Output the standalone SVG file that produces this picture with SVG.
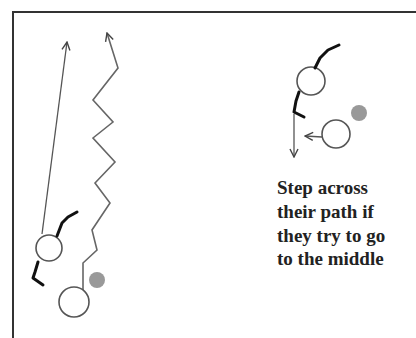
<svg xmlns="http://www.w3.org/2000/svg" width="416" height="338" viewBox="0 0 416 338">
<defs>
<style>
.player{fill:#fff;stroke:#555;stroke-width:1.6}
.ball{fill:#999;stroke:none}
.stick{fill:none;stroke:#111;stroke-width:3;stroke-linecap:round;stroke-linejoin:round}
.path{fill:none;stroke:#555;stroke-width:1.3;stroke-linejoin:round}
.zig{fill:none;stroke:#666;stroke-width:1.6;stroke-linejoin:miter}
.label{font-family:"Liberation Serif","Times New Roman",serif;font-weight:bold;font-size:19px;fill:#222}
</style>
<marker id="open" viewBox="0 0 10 10" refX="9" refY="5" markerWidth="10" markerHeight="10" markerUnits="userSpaceOnUse" orient="auto">
<path d="M1,1 L9,5 L1,9" fill="none" stroke="#444" stroke-width="1.4"/>
</marker>
</defs>
<rect width="416" height="338" fill="#fff"/>
<path d="M13,338 V12 H416" fill="none" stroke="#333" stroke-width="2"/>
<g id="connectors">
<line class="path" x1="42" y1="234" x2="67" y2="42" marker-end="url(#open)"/>
<polyline class="zig" points="83,290 83,263 97,250 92,230 110,203 95,183 115,162 93,138 113,122 93,100 118,68 107,33" marker-end="url(#open)"/>
<line class="path" x1="294" y1="114" x2="294" y2="157" marker-end="url(#open)"/>
<line class="path" x1="322" y1="137" x2="305" y2="136" marker-end="url(#open)"/>
</g>
<g id="defender-left">
<circle class="player" cx="49" cy="248" r="13"/>
<polyline class="stick" points="57,236 62,223 68,217 77,212"/>
<polyline class="stick" points="38,262 35,272 33,278 43,285"/>
</g>
<g id="attacker-left">
<circle class="player" cx="74" cy="302" r="15"/>
</g>
<g id="ball-left">
<circle class="ball" cx="97" cy="280" r="8"/>
</g>
<g id="defender-right">
<circle class="player" cx="311" cy="81" r="14"/>
<polyline class="stick" points="315,68 320,58 328,50 339,45"/>
<polyline class="stick" points="299,92 296,101 294,112 304,117"/>
</g>
<g id="attacker-right">
<circle class="player" cx="336" cy="134" r="14"/>
</g>
<g id="ball-right">
<circle class="ball" cx="359" cy="113" r="8"/>
</g>
<g id="caption">
<text class="label" x="277" y="194">Step across</text>
<text class="label" x="277" y="218">their path if</text>
<text class="label" x="277" y="242">they try to go</text>
<text class="label" x="277" y="265">to the middle</text>
</g>
</svg>
